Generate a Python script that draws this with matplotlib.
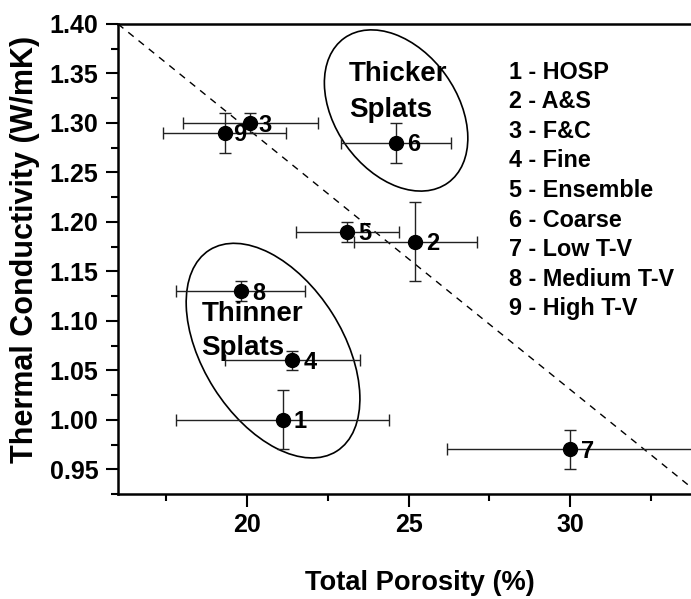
import matplotlib
matplotlib.use("Agg")
import matplotlib.pyplot as plt
from matplotlib.patches import Ellipse
from matplotlib.transforms import Affine2D, ScaledTranslation
from matplotlib.ticker import MultipleLocator, FormatStrFormatter

plt.rcParams['font.family'] = ['Liberation Sans', 'DejaVu Sans']
plt.rcParams['font.weight'] = 'bold'

# Coating data: porosity (%) vs thermal conductivity (W/mK)
sample_ids = [1, 2, 3, 4, 5, 6, 7, 8, 9]
sample_names = ["HOSP", "A&S", "F&C", "Fine", "Ensemble", "Coarse",
                "Low T-V", "Medium T-V", "High T-V"]
porosity = [21.1, 25.2, 20.1, 21.4, 23.1, 24.6, 30.0, 19.8, 19.3]
porosity_err = [3.3, 1.9, 2.1, 2.1, 1.6, 1.7, 3.8, 2.0, 1.9]
conductivity = [1.00, 1.18, 1.30, 1.06, 1.19, 1.28, 0.97, 1.13, 1.29]
conductivity_err = [0.03, 0.04, 0.01, 0.01, 0.01, 0.02, 0.02, 0.01, 0.02]

# Trend line end points
trend_x = [16.0, 34.0]
trend_y = [1.40, 0.925]

fig = plt.figure(figsize=(6.91, 5.99), dpi=100)
ax = fig.add_axes([118 / 691, 105 / 599, 581.4 / 691, 470 / 599])

ax.errorbar(porosity, conductivity, xerr=porosity_err, yerr=conductivity_err,
            fmt='o', color='black', ecolor='#222222', elinewidth=1.0,
            capsize=4.5, capthick=1.0, markersize=10, zorder=3)

ax.plot(trend_x, trend_y, color='black', linestyle=(0, (5, 4.5)), linewidth=1.0,
        zorder=2)

# Sample number next to each point
label_dx = [8, 8, 5.5, 8, 8, 8, 8, 8, 6]
for n, x, y, dx in zip(sample_ids, porosity, conductivity, label_dx):
    ax.annotate(str(n), (x, y), xytext=(dx, -6.2), textcoords='offset points',
                ha='left', va='baseline', fontsize=17, fontweight='bold')

# Grouping ellipses (sizes in pixels, centred on data positions)
def group_ellipse(cx, cy, width, height, angle):
    e = Ellipse((0, 0), width, height, angle=angle, fill=False,
                edgecolor='black', linewidth=1.2,
                transform=Affine2D() + ScaledTranslation(cx, cy, ax.transData))
    ax.add_patch(e)

group_ellipse(24.61, 1.3126, 122, 178, 35.6)
group_ellipse(20.80, 1.0699, 140, 238, 32.3)

ax.text(23.15, 1.3427, "Thicker", fontsize=20, fontweight='bold',
        ha='left', va='baseline')
ax.text(23.15, 1.3064, "Splats", fontsize=20, fontweight='bold',
        ha='left', va='baseline')
ax.text(18.58, 1.1003, "Thinner", fontsize=20, fontweight='bold',
        ha='left', va='baseline')
ax.text(18.58, 1.0657, "Splats", fontsize=20, fontweight='bold',
        ha='left', va='baseline')

# Key listing sample names
for i, (n, name) in enumerate(zip(sample_ids, sample_names)):
    ax.text(28.10, 1.3447 - i * 0.0299, f"{n} - {name}", fontsize=16.8,
            fontweight='bold', ha='left', va='baseline')

ax.set_xlim(16, 34)
ax.set_ylim(0.925, 1.40)
ax.xaxis.set_major_locator(MultipleLocator(5))
ax.xaxis.set_minor_locator(MultipleLocator(2.5))
ax.yaxis.set_major_locator(MultipleLocator(0.05))
ax.yaxis.set_minor_locator(MultipleLocator(0.025))
ax.yaxis.set_major_formatter(FormatStrFormatter('%.2f'))

ax.tick_params(which='major', direction='out', length=9, width=1.5,
               labelsize=18, pad=5)
ax.tick_params(which='minor', direction='out', length=5, width=1.5)
for lbl in ax.get_xticklabels() + ax.get_yticklabels():
    lbl.set_fontweight('bold')

for side in ['left', 'bottom', 'top', 'right']:
    ax.spines[side].set_linewidth(1.8)

ax.set_xlabel("Total Porosity (%)", fontsize=19.6, fontweight='bold')
ax.set_ylabel("Thermal Conductivity (W/mK)", fontsize=22, fontweight='bold')
ax.xaxis.set_label_coords((420 - 118) / 581.4, -(590 - 494) / 470)
ax.yaxis.set_label_coords(-(118 - 25) / 581.4, (494 - 249) / 470)
ax.xaxis.label.set_va('baseline')
ax.yaxis.label.set_va('center')

fig.savefig("out.png", dpi=100)
